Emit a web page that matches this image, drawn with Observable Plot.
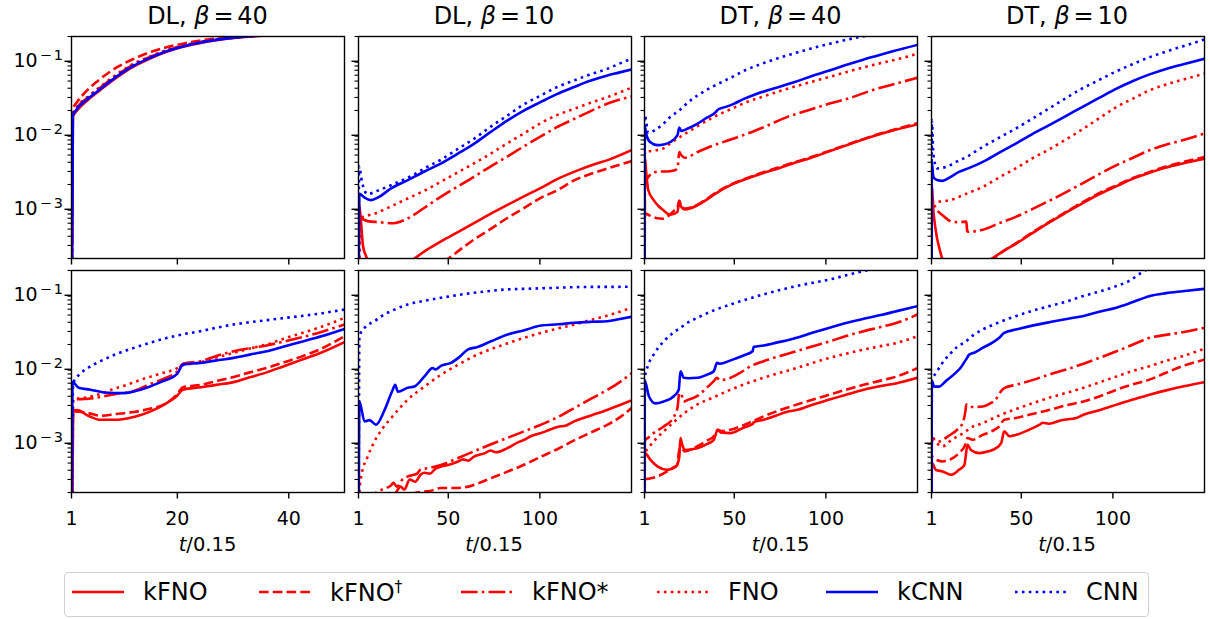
<!DOCTYPE html>
<html><head><meta charset="utf-8">
<script src="https://cdn.jsdelivr.net/npm/d3@7"></script>
<script src="https://cdn.jsdelivr.net/npm/@observablehq/plot@0.6"></script>
<style>
body{margin:0;background:#fff;}
#fig{position:relative;width:1210px;height:619px;font-family:"DejaVu Sans",sans-serif;color:#000;overflow:hidden;background:#fff}
.abs{position:absolute;white-space:nowrap;line-height:1}
.ctr{transform:translateX(-50%)}
.eq{margin:0 0.16em}
</style></head><body><div id="fig"></div>
<script>
// ---------- series names and tick labels ----------
const seriesNames = ["kFNO", "kFNO†", "kFNO*", "FNO", "kCNN", "CNN"];
const panelTitles = [["DL", "40"], ["DL", "10"], ["DT", "40"], ["DT", "10"]];
const xTicksShort = [1, 20, 40];
const xTicksLong = [1, 50, 100];
const yMajorTicks = [1e-3, 1e-2, 1e-1];
const xLabel = "/0.15";

// ---------- top row: DL, beta=40 ----------
const A_DL40_kFNO = [[1,1e-5],[1.25,0.0165],[2,0.02],[4,0.028],[6.2,0.038],[9,0.055],[12.2,0.079],[15,0.1],[18.2,0.125],[21,0.145],[24.2,0.164],[27,0.178],[30.2,0.191],[34,0.202],[40,0.22],[50,0.24]];
const A_DL40_kFNOdag = [[1,1e-5],[1.25,0.021],[2,0.026],[3.8,0.0374],[6.2,0.0537],[9.2,0.077],[12.2,0.1],[15,0.122],[18.2,0.144],[21,0.16],[24.2,0.177],[27,0.19],[29,0.2],[35,0.22],[50,0.24]];
const A_DL40_kFNOstar = [[1,1e-5],[1.25,0.0175],[2,0.022],[4,0.03],[6.2,0.041],[9,0.059],[12.2,0.084],[15,0.105],[18.2,0.13],[21,0.149],[24.2,0.168],[27,0.182],[30.2,0.195],[33.5,0.203],[40,0.22],[50,0.24]];
const A_DL40_FNO = [[1,1e-5],[1.25,0.018],[2,0.0225],[4,0.031],[6.2,0.042],[9,0.061],[12.2,0.086],[15,0.107],[18.2,0.132],[21,0.151],[24.2,0.17],[27,0.184],[30.2,0.196],[33,0.203],[40,0.22],[50,0.24]];
const A_DL40_kCNN = [[1,1e-5],[1.25,0.017],[2,0.021],[4,0.029],[6.2,0.039],[9,0.057],[12.2,0.081],[15,0.102],[18.2,0.127],[21,0.147],[24.2,0.166],[27,0.18],[30.2,0.193],[33.8,0.203],[40,0.22],[50,0.24]];
const A_DL40_CNN = [[1,1e-5],[1.25,0.0175],[2,0.0215],[4,0.03],[6.2,0.04],[9,0.058],[12.2,0.082],[15,0.103],[18.2,0.128],[21,0.148],[24.2,0.167],[27,0.181],[30.2,0.194],[33.5,0.203],[40,0.22],[50,0.24]];

// ---------- top row: DL, beta=10 ----------
const A_DL10_kFNO = [[1,1e-5],[1.2,0.00112],[2,0.0008],[3.5,0.00029],[5,0.00022],[7,0.00017],[15,0.00014],[25,0.00016],[31.5,0.0002],[38,0.00026],[46,0.00034],[55,0.00045],[64,0.0006],[73,0.0008],[82,0.00105],[91,0.00137],[100,0.00177],[110,0.0024],[121,0.00313],[129,0.0037],[137,0.00427],[150,0.00582]];
const A_DL10_kFNOdag = [[1,1e-5],[3,0.00012],[20,0.0001],[40,0.00016],[50,0.0002],[57,0.00027],[64,0.00036],[73,0.0005],[82,0.0007],[91,0.00095],[100,0.0013],[110,0.0017],[119,0.00229],[128,0.0028],[137,0.0033],[150,0.00413]];
const A_DL10_kFNOstar = [[1,1e-5],[1.5,0.0007],[6,0.00064],[12,0.00062],[20,0.0006],[28,0.0007],[37,0.00097],[46,0.00137],[55,0.00187],[64,0.00254],[73,0.0035],[82,0.00473],[91,0.0065],[100,0.0088],[109,0.0118],[119,0.0155],[128,0.0198],[137,0.0248],[150,0.031]];
const A_DL10_FNO = [[1,1e-5],[2,0.0007],[10,0.00081],[20,0.00105],[30,0.00137],[38,0.0017],[46,0.00218],[55,0.0029],[64,0.00385],[73,0.0052],[82,0.00715],[91,0.0097],[100,0.0133],[109,0.0172],[119,0.0212],[128,0.0256],[137,0.0304],[150,0.0407]];
const A_DL10_kCNN = [[1,1e-5],[1.5,0.0015],[4,0.00135],[7.9,0.00123],[12,0.00135],[18.8,0.00177],[27.9,0.00229],[37,0.003],[46.1,0.00385],[55,0.0052],[64.2,0.00715],[73,0.0102],[82.4,0.01475],[91,0.0198],[100.6,0.0261],[109,0.033],[118.7,0.0415],[127,0.05],[136.9,0.0596],[143,0.065],[150,0.0718]];
const A_DL10_CNN = [[1,1e-5],[1.3,0.0035],[3,0.0021],[6,0.00148],[10,0.0016],[18.8,0.00196],[29.7,0.0026],[38,0.0034],[46.1,0.00435],[55,0.006],[64.2,0.00835],[73,0.012],[82.4,0.0172],[91,0.024],[100.6,0.032],[109,0.041],[118.7,0.051],[127,0.061],[136.9,0.0733],[143,0.085],[150,0.1]];

// ---------- top row: DT, beta=40 ----------
const A_DT40_kFNO = [[1,1e-5],[1.2,0.0047],[2,0.0028],[3,0.0017],[6,0.00123],[9,0.001],[11,0.00091],[15,0.00078],[19,0.00085],[20,0.0012],[21,0.001],[23,0.00092],[30,0.00105],[35,0.00125],[40,0.00152],[48,0.00196],[56,0.00235],[65,0.00282],[74,0.0033],[83,0.00393],[92,0.0046],[101,0.00552],[110,0.0066],[119,0.0079],[128,0.0093],[137,0.0108],[150,0.013]];
const A_DT40_kFNOdag = [[1,1e-5],[1.2,0.00081],[4,0.00076],[8,0.0007],[11,0.00069],[14,0.00075],[17,0.00088],[19,0.00098],[20,0.0012],[21,0.00103],[23,0.00095],[30,0.00107],[35,0.00128],[40,0.00155],[48,0.002],[56,0.0024],[65,0.00288],[74,0.0034],[83,0.004],[92,0.0047],[101,0.0056],[110,0.0067],[119,0.008],[128,0.0095],[137,0.011],[150,0.0135]];
const A_DT40_kFNOstar = [[1,1e-5],[1.3,0.0021],[3,0.0025],[5,0.0028],[9,0.003],[13,0.003],[17,0.0031],[19,0.0033],[20,0.0055],[21,0.005],[23,0.0046],[30,0.0055],[39,0.0068],[48,0.0081],[57,0.0097],[68,0.0125],[79,0.0164],[90,0.02],[102,0.0248],[114,0.03],[125,0.0374],[138,0.046],[150,0.0555]];
const A_DT40_FNO = [[1,1e-5],[1.2,0.0055],[5,0.0057],[11,0.0061],[16,0.0075],[22,0.0093],[30,0.0123],[39,0.0164],[48,0.0208],[57,0.0261],[66,0.031],[75,0.0367],[84,0.0428],[93,0.0495],[102,0.057],[111,0.066],[120,0.076],[130,0.0874],[140,0.1],[150,0.117]];
const A_DT40_kCNN = [[1,1e-5],[1.2,0.012],[2,0.0095],[4,0.0075],[8,0.0068],[12,0.007],[15,0.0075],[19,0.0093],[20,0.0118],[21,0.0106],[25,0.0115],[30,0.0133],[35,0.016],[40,0.0191],[41,0.0205],[45,0.0222],[50,0.0248],[55,0.0285],[61,0.0327],[72,0.04],[83,0.0486],[92,0.058],[101,0.0682],[110,0.081],[119,0.095],[128,0.11],[137,0.127],[150,0.154]];
const A_DT40_CNN = [[1,1e-5],[1.2,0.0172],[3,0.01],[7,0.011],[11,0.013],[15,0.0163],[20,0.0201],[25,0.026],[30,0.032],[39,0.043],[48,0.0554],[56,0.07],[65,0.0857],[74,0.102],[83,0.119],[92,0.138],[102,0.159],[111,0.18],[120,0.2],[135,0.23],[150,0.26]];

// ---------- top row: DT, beta=10 ----------
const A_DT10_kFNO = [[1,1e-5],[1.2,0.00186],[2,0.0009],[3,0.00054],[6,0.000235],[10,0.00014],[20,0.00013],[28,0.00016],[34,0.0002],[40,0.00025],[47,0.000315],[56,0.00044],[66,0.00063],[75,0.00085],[84,0.00114],[93,0.0015],[102,0.0019],[111,0.0024],[120,0.00288],[129,0.0034],[138,0.00385],[150,0.00445]];
const A_DT10_kFNOdag = [[1,1e-5],[3,0.00012],[20,0.00012],[30,0.00016],[35,0.0002],[40,0.00025],[47,0.00032],[56,0.00045],[66,0.00064],[75,0.00087],[84,0.00117],[93,0.00155],[102,0.00195],[111,0.00245],[120,0.00295],[129,0.0035],[138,0.004],[150,0.0047]];
const A_DT10_kFNOstar = [[1,1e-5],[1.2,0.0012],[2,0.00111],[4,0.0009],[7,0.00077],[12,0.00063],[16,0.00062],[20,0.00063],[20.5,0.00047],[21,0.00046],[29,0.00049],[38,0.0006],[47,0.00073],[56,0.00093],[66,0.00123],[75,0.0016],[84,0.00211],[93,0.0028],[102,0.00365],[111,0.0046],[120,0.00582],[129,0.0069],[138,0.0079],[150,0.0098]];
const A_DT10_FNO = [[1,1e-5],[1.2,0.0013],[2,0.00117],[6,0.00118],[11,0.00123],[20,0.0015],[29,0.00186],[38,0.0025],[47,0.0033],[56,0.0045],[66,0.00612],[75,0.0083],[84,0.0114],[93,0.016],[102,0.0223],[111,0.029],[120,0.0374],[129,0.045],[138,0.0521],[150,0.0628]];
const A_DT10_kCNN = [[1,1e-5],[1.2,0.004],[2,0.00254],[4,0.0023],[7,0.00224],[11,0.0025],[16,0.00296],[21,0.0033],[29,0.00405],[38,0.0054],[47,0.00715],[56,0.0096],[66,0.013],[75,0.0172],[84,0.0228],[93,0.03],[102,0.0394],[111,0.05],[120,0.0615],[129,0.073],[138,0.0839],[150,0.1]];
const A_DT10_CNN = [[1,1e-5],[1.2,0.0147],[2,0.0052],[4,0.0033],[10,0.00354],[15,0.0041],[20,0.0047],[29,0.00646],[38,0.0086],[47,0.0114],[56,0.0155],[65,0.0212],[74,0.029],[83,0.0394],[92,0.051],[101,0.066],[110,0.083],[120,0.105],[129,0.125],[138,0.147],[150,0.182]];

// ---------- bottom row: DL, beta=40 ----------
const B_DL40_kFNO = [[1,1e-5],[1.3,0.0025],[2,0.0026],[4,0.00218],[6.2,0.00192],[9.2,0.00192],[12.2,0.0021],[15.2,0.0025],[18,0.0032],[20,0.0041],[21,0.0049],[24.2,0.0053],[27,0.0057],[30.1,0.0062],[33,0.0072],[36,0.0084],[39,0.0101],[42,0.0122],[46,0.0157],[50,0.0215]];
const B_DL40_kFNOdag = [[1,1e-5],[1.3,0.0025],[4,0.00237],[6.2,0.00218],[9,0.0023],[12.2,0.00245],[15,0.0027],[18,0.0032],[20,0.0043],[21,0.0053],[24.2,0.0057],[27,0.0064],[30.1,0.0073],[33,0.0084],[36,0.0096],[39,0.0114],[42,0.0135],[46,0.0178],[50,0.0259]];
const B_DL40_kFNOstar = [[1,1e-5],[1.3,0.0036],[4,0.0037],[6.2,0.0039],[9,0.0043],[12.2,0.0047],[15,0.0058],[18,0.0071],[20,0.0087],[21,0.011],[24.2,0.0119],[27,0.014],[30.1,0.0162],[33,0.0178],[36,0.0194],[39,0.0218],[42,0.0246],[46,0.0298],[50,0.0373]];
const B_DL40_FNO = [[1,1e-5],[1.3,0.0036],[4,0.0039],[6.2,0.0043],[8.5,0.005],[10.9,0.0057],[13.5,0.0067],[16.3,0.0078],[20,0.0096],[21,0.0105],[24.2,0.0115],[27,0.0133],[30.1,0.0154],[33,0.0176],[36,0.02],[39,0.0238],[42,0.0281],[46,0.035],[50,0.0458]];
const B_DL40_kCNN = [[1,1e-5],[1.2,0.0062],[2.3,0.0052],[4.4,0.0049],[6.8,0.0045],[10.4,0.0044],[13.4,0.0049],[17,0.0062],[20,0.0081],[21,0.0107],[24.2,0.0113],[27,0.0122],[30.1,0.0132],[33,0.0146],[36,0.0162],[39,0.0187],[42,0.0215],[46,0.026],[50,0.0325]];
const B_DL40_CNN = [[1,1e-5],[1.3,0.006],[2.6,0.0081],[4,0.0097],[6.2,0.0119],[9,0.0148],[12.2,0.018],[15,0.021],[18.2,0.0246],[21,0.0275],[24.2,0.0303],[27,0.0337],[30.1,0.0373],[33,0.04],[36.1,0.0427],[39,0.0455],[42.1,0.0483],[46,0.053],[50,0.0594]];

// ---------- bottom row: DL, beta=10 ----------
const B_DL10_kFNO = [[1,1e-5],[18,0.00015],[21.5,0.0002],[24,0.00024],[26,0.00022],[29,0.0003],[32,0.00028],[35,0.00035],[37,0.00037],[40,0.00036],[43,0.00042],[46,0.00045],[50,0.00047],[55,0.00052],[58,0.00056],[61,0.00054],[64,0.00061],[70,0.00068],[73,0.00074],[76,0.0007],[82,0.00079],[88,0.00095],[91,0.00102],[95,0.00115],[100.6,0.00127],[105,0.0014],[110,0.00155],[114,0.0016],[118.7,0.00183],[128,0.0022],[137,0.00263],[143,0.003],[150,0.0035]];
const B_DL10_kFNOdag = [[1,1e-5],[20,0.00012],[33,0.0002],[40,0.00021],[46,0.00023],[53,0.00023],[61,0.00024],[67,0.00027],[73,0.00031],[82,0.00038],[91,0.00047],[100.6,0.00061],[110,0.00078],[118.7,0.00101],[128,0.0013],[137,0.00165],[144,0.0021],[150,0.00277]];
const B_DL10_kFNOstar = [[1,1e-5],[9.7,0.00019],[14,0.00022],[18.8,0.00025],[20,0.00027],[22,0.00024],[25,0.0003],[28,0.00033],[33,0.00036],[35,0.00041],[40,0.00043],[46,0.00047],[55,0.00058],[64,0.00072],[73,0.00089],[82,0.00109],[91,0.00133],[100.6,0.00165],[110,0.0021],[118.7,0.00277],[128,0.0037],[137,0.0049],[144,0.0063],[150,0.0082]];
const B_DL10_FNO = [[1,1e-5],[1.5,0.0002],[2.5,0.00033],[6,0.00061],[9.7,0.00098],[14,0.00145],[18.8,0.00203],[27.9,0.0036],[37,0.0054],[46,0.0078],[55,0.0105],[64,0.0139],[73,0.0172],[82,0.0206],[91,0.0245],[100.6,0.0287],[110,0.033],[118.7,0.0372],[128,0.043],[137,0.0493],[150,0.0627]];
const B_DL10_kCNN = [[1,1e-5],[1.5,0.0034],[4.3,0.00183],[7,0.0019],[10.6,0.00165],[15.2,0.0026],[19.7,0.0049],[21,0.0057],[22.5,0.0046],[27.9,0.0052],[31.5,0.0054],[37,0.0074],[41.5,0.0096],[43,0.0092],[46,0.0103],[51.5,0.0113],[56,0.0135],[60.6,0.0171],[66,0.0185],[73.3,0.0221],[82.4,0.0273],[91.5,0.0312],[100.6,0.0361],[110,0.0375],[118.7,0.0393],[128,0.0405],[136.9,0.0413],[143,0.044],[150,0.0473]];
const B_DL10_CNN = [[1,1e-5],[1.5,0.0259],[4.3,0.0336],[9.7,0.0413],[14,0.049],[18.8,0.0565],[27.9,0.0695],[37,0.078],[46,0.0855],[55,0.093],[64,0.1],[73,0.106],[82,0.111],[91,0.113],[100.6,0.115],[110,0.117],[118.7,0.119],[128,0.12],[137,0.12],[150,0.121]];

// ---------- bottom row: DT, beta=40 ----------
const B_DT40_kFNO = [[1,1e-5],[1.2,0.00068],[4.3,0.00055],[8,0.00045],[13.4,0.000405],[17,0.00043],[18.8,0.00047],[20,0.00061],[20.6,0.00109],[21.5,0.0009],[23,0.00075],[29.7,0.00079],[35,0.0009],[38.8,0.00103],[41,0.00141],[42.5,0.0013],[48,0.00127],[55,0.0015],[60,0.00168],[60.6,0.00178],[66,0.00192],[73,0.0022],[80,0.0025],[84,0.0026],[93,0.0031],[102,0.0036],[111,0.0042],[120.6,0.0049],[130,0.0055],[138.7,0.006],[150,0.0071]];
const B_DT40_kFNOdag = [[1,1e-5],[1.2,0.0003],[4,0.00031],[8,0.00033],[13.4,0.000385],[17,0.00044],[18.8,0.00047],[20,0.00075],[21,0.0008],[23,0.00072],[29.7,0.00084],[35,0.001],[38.8,0.00115],[41,0.00141],[43,0.00135],[48,0.00141],[57,0.0017],[66,0.00214],[75,0.0026],[84,0.00308],[93,0.0036],[102,0.0042],[111,0.0049],[120.6,0.0057],[130,0.0065],[138.7,0.0074],[150,0.0096]];
const B_DT40_kFNOstar = [[1,1e-5],[1.2,0.001],[3,0.0011],[6,0.00127],[11.5,0.00156],[17,0.0021],[19,0.0028],[20,0.0044],[21,0.0043],[22.4,0.0034],[25,0.0036],[29.7,0.004],[35,0.0052],[38.8,0.0064],[40.6,0.0071],[42,0.0066],[48,0.0071],[54,0.0085],[59,0.0102],[66,0.0119],[75,0.014],[84,0.0162],[93,0.019],[102,0.0221],[111,0.026],[120.6,0.0303],[130,0.0345],[138.7,0.0393],[150,0.0509]];
const B_DT40_FNO = [[1,1e-5],[1.2,0.00068],[3,0.00079],[6,0.00098],[11.5,0.00134],[16,0.0017],[20.6,0.00214],[25,0.0026],[29.7,0.00308],[39,0.0039],[48,0.0049],[57,0.006],[66,0.0071],[75,0.0083],[84,0.0096],[93,0.0113],[102,0.0132],[111,0.015],[120.6,0.0171],[130,0.019],[138.7,0.021],[150,0.0259]];
const B_DT40_kCNN = [[1,1e-5],[1.2,0.0064],[3.4,0.004],[7,0.0032],[11.5,0.0034],[17,0.004],[19.7,0.0049],[20.6,0.0087],[22.4,0.0071],[25,0.007],[30,0.0071],[35,0.0078],[38.8,0.0087],[40.6,0.0113],[42,0.011],[48,0.0122],[55,0.0142],[60,0.0162],[60.6,0.0186],[66,0.0194],[73,0.0212],[80.6,0.0233],[84,0.0246],[93,0.029],[102,0.0336],[111,0.039],[120.6,0.0445],[130,0.05],[138.7,0.0565],[150,0.066]];
const B_DT40_CNN = [[1,1e-5],[1.2,0.0071],[3,0.0105],[6,0.0146],[11.5,0.0221],[16,0.028],[20.6,0.0336],[25,0.04],[29.7,0.0458],[39,0.058],[48,0.0695],[57,0.082],[66,0.095],[75,0.109],[84,0.123],[93,0.137],[102,0.151],[111,0.172],[120.6,0.197],[135,0.23],[150,0.27]];

// ---------- bottom row: DT, beta=10 ----------
const B_DT10_kFNO = [[1,1e-5],[1.2,0.0005],[3.4,0.000405],[7,0.000385],[11.6,0.000347],[16,0.000405],[18.9,0.00047],[20.7,0.00088],[22.5,0.00075],[27,0.00068],[32,0.00072],[36,0.00079],[39,0.00093],[40.7,0.00134],[43.5,0.00115],[47,0.0012],[54,0.0014],[60,0.00165],[61.7,0.00175],[65,0.0017],[72,0.0019],[80,0.00203],[84,0.00225],[93,0.0026],[102,0.00308],[111,0.0036],[120,0.0042],[129,0.0048],[138,0.0054],[150,0.0062]];
const B_DT10_kFNOdag = [[1,1e-5],[1.2,0.00061],[4,0.00055],[7,0.000525],[10.7,0.00055],[16,0.00068],[19.4,0.00088],[20.7,0.00109],[23.4,0.00103],[28.9,0.0012],[34,0.00135],[38,0.00156],[40.7,0.00193],[47,0.00203],[56,0.0023],[65,0.0026],[74,0.003],[84,0.0034],[93,0.004],[102,0.0049],[111,0.0058],[120,0.0067],[129,0.0083],[138,0.0102],[150,0.0125]];
const B_DT10_kFNOstar = [[1,1e-5],[1.2,0.0011],[5,0.00098],[10,0.00115],[15,0.00141],[18,0.00174],[19.5,0.0025],[20,0.00308],[22,0.00286],[29,0.0029],[33,0.0032],[36,0.0036],[39,0.0047],[41,0.0052],[47,0.0057],[56,0.0066],[65,0.0078],[74,0.0091],[84,0.011],[93,0.0133],[102,0.0162],[111,0.02],[120,0.0246],[129,0.027],[138,0.0293],[150,0.0336]];
const B_DT10_FNO = [[1,1e-5],[1.2,0.00109],[4,0.00092],[7,0.00084],[12,0.00103],[19,0.0013],[22,0.00148],[29,0.00173],[38,0.0022],[47,0.00268],[56,0.0032],[65,0.0038],[74,0.0044],[84,0.0052],[93,0.0062],[102,0.0074],[111,0.0088],[120,0.0102],[129,0.012],[138,0.0139],[150,0.0175]];
const B_DT10_kCNN = [[1,1e-5],[1.2,0.0064],[2.5,0.0054],[5,0.0054],[8.8,0.0064],[14,0.0082],[17,0.0098],[19.8,0.0125],[21.6,0.0146],[24.3,0.0155],[28.9,0.018],[34,0.021],[38,0.0246],[40.7,0.0287],[47,0.0318],[56,0.036],[65.3,0.04],[74,0.044],[83.5,0.0483],[92,0.055],[101.8,0.0627],[111,0.075],[119.8,0.09],[129,0.099],[138,0.105],[150,0.113]];
const B_DT10_CNN = [[1,1e-5],[1.2,0.0067],[3.4,0.0082],[7,0.0113],[10.7,0.0146],[15,0.0185],[19.8,0.0221],[24,0.027],[28.9,0.0318],[38,0.04],[47,0.0483],[56,0.057],[65.3,0.066],[74,0.075],[83.5,0.09],[92,0.103],[101.8,0.123],[109,0.145],[116,0.19],[125,0.24],[150,0.33]];

// ---------- assembly ----------
const panels = [
  {row:0, col:0, s:[A_DL40_kFNO, A_DL40_kFNOdag, A_DL40_kFNOstar, A_DL40_FNO, A_DL40_kCNN, A_DL40_CNN]},
  {row:0, col:1, s:[A_DL10_kFNO, A_DL10_kFNOdag, A_DL10_kFNOstar, A_DL10_FNO, A_DL10_kCNN, A_DL10_CNN]},
  {row:0, col:2, s:[A_DT40_kFNO, A_DT40_kFNOdag, A_DT40_kFNOstar, A_DT40_FNO, A_DT40_kCNN, A_DT40_CNN]},
  {row:0, col:3, s:[A_DT10_kFNO, A_DT10_kFNOdag, A_DT10_kFNOstar, A_DT10_FNO, A_DT10_kCNN, A_DT10_CNN]},
  {row:1, col:0, s:[B_DL40_kFNO, B_DL40_kFNOdag, B_DL40_kFNOstar, B_DL40_FNO, B_DL40_kCNN, B_DL40_CNN]},
  {row:1, col:1, s:[B_DL10_kFNO, B_DL10_kFNOdag, B_DL10_kFNOstar, B_DL10_FNO, B_DL10_kCNN, B_DL10_CNN]},
  {row:1, col:2, s:[B_DT40_kFNO, B_DT40_kFNOdag, B_DT40_kFNOstar, B_DT40_FNO, B_DT40_kCNN, B_DT40_CNN]},
  {row:1, col:3, s:[B_DT10_kFNO, B_DT10_kFNOdag, B_DT10_kFNOstar, B_DT10_FNO, B_DT10_kCNN, B_DT10_CNN]}
];

const LW = 2.6;
const RED = "#ff0000", BLUE = "#0000ff";
const styles = [
  {stroke: RED, dash: null},
  {stroke: RED, dash: `${3.7*LW},${1.6*LW}`},
  {stroke: RED, dash: `${6.4*LW},${1.6*LW},${1*LW},${1.6*LW}`},
  {stroke: RED, dash: `${1*LW},${1.65*LW}`},
  {stroke: BLUE, dash: null},
  {stroke: BLUE, dash: `${1*LW},${1.65*LW}`}
];

const yMinorTicks = [];
for (let e = -4; e <= -1; e++) for (let m = 2; m <= 9; m++) {
  const v = m * Math.pow(10, e);
  if (v >= 2e-4 && v <= 0.2 + 1e-9) yMinorTicks.push(v);
}

const colLeft = [71, 357.5, 644, 930.5], frameW = 273;
const rowTop = [35.7, 270], frameH = 222;
const fig = document.getElementById("fig");
const NS = "http://www.w3.org/2000/svg";

for (const p of panels) {
  const ml = p.col === 0 ? 71 : 12, mr = 4, mt = 4, mb = p.row === 1 ? 44 : 12;
  const short = p.col === 0;
  const marks = [];
  p.s.forEach((arr, i) => {
    marks.push(Plot.line(arr, {
      x: d => d[0], y: d => d[1], stroke: styles[i].stroke, strokeWidth: LW,
      strokeDasharray: styles[i].dash, strokeLinecap: "butt", strokeLinejoin: "round",
      curve: "monotone-x", clip: true
    }));
  });
  marks.push(Plot.axisY(yMinorTicks, {tickSize: 3.5, tickFormat: () => "", strokeWidth: 1.1, label: null}));
  marks.push(Plot.axisY(yMajorTicks, {
    tickSize: 6.5, tickPadding: 2, strokeWidth: 1.4, label: null, fontSize: 19, dy: 2.5,
    tickFormat: p.col === 0 ? (d => "10^" + Math.round(Math.log10(d))) : (() => "")
  }));
  marks.push(Plot.axisX(short ? xTicksShort : xTicksLong, {
    tickSize: 6.5, tickPadding: 12, strokeWidth: 1.4, label: null, fontSize: 19,
    tickFormat: p.row === 1 ? (d => String(d)) : (() => "")
  }));
  marks.push(Plot.frame({stroke: "#000", strokeWidth: 1.4}));
  const svg = Plot.plot({
    width: frameW + ml + mr, height: frameH + mt + mb,
    marginLeft: ml, marginRight: mr, marginTop: mt, marginBottom: mb,
    style: {background: "transparent", overflow: "visible", fontFamily: "DejaVu Sans", fontSize: "19px", color: "#000"},
    x: {domain: short ? [1, 50] : [1, 150], label: null},
    y: {type: "log", domain: [2e-4, 0.2], label: null},
    marks
  });
  svg.style.position = "absolute";
  svg.style.left = (colLeft[p.col] - ml) + "px";
  svg.style.top = (rowTop[p.row] - mt) + "px";
  svg.style.maxWidth = "none";
  svg.querySelectorAll("text").forEach(t => {
    const m = /^10\^(-?\d+)$/.exec(t.textContent);
    if (!m) return;
    t.textContent = "";
    const a = document.createElementNS(NS, "tspan"); a.textContent = "10"; t.appendChild(a);
    const b = document.createElementNS(NS, "tspan");
    b.setAttribute("dy", "-0.52em"); b.setAttribute("dx", "2"); b.setAttribute("font-size", "0.76em");
    b.textContent = "\u2212"; t.appendChild(b);
    const c = document.createElementNS(NS, "tspan");
    c.setAttribute("dx", "2"); c.setAttribute("font-size", "0.76em");
    c.textContent = m[1].replace("-", ""); t.appendChild(c);
  });
  fig.appendChild(svg);

  if (p.row === 0) {
    const d = document.createElement("div");
    d.className = "abs ctr";
    d.style.left = (colLeft[p.col] + frameW / 2) + "px";
    d.style.top = (24 - 0.846 * 24) + "px";
    d.style.fontSize = "24px";
    const tt = panelTitles[p.col];
    d.innerHTML = `${tt[0]}, <i>β</i><span class="eq">=</span>${tt[1]}`;
    fig.appendChild(d);
  } else {
    const d = document.createElement("div");
    d.className = "abs ctr";
    d.style.left = (colLeft[p.col] + frameW / 2) + "px";
    d.style.top = (551 - 0.846 * 19.5) + "px";
    d.style.fontSize = "19.5px";
    d.innerHTML = `<i>t</i>${xLabel}`;
    fig.appendChild(d);
  }
}

// ---------- legend ----------
const box = document.createElement("div");
box.className = "abs";
Object.assign(box.style, {left: "64px", top: "572px", width: "1083px", height: "43px",
  border: "1px solid #cfcfcf", borderRadius: "4px", background: "#fff"});
fig.appendChild(box);
const legX = [72, 259, 461, 657, 826, 1015];
seriesNames.forEach((name, i) => {
  const s = document.createElementNS(NS, "svg");
  s.setAttribute("width", 56); s.setAttribute("height", 10);
  Object.assign(s.style, {position: "absolute", left: legX[i] + "px", top: "587px"});
  const l = document.createElementNS(NS, "line");
  l.setAttribute("x1", 0); l.setAttribute("x2", 52); l.setAttribute("y1", 5); l.setAttribute("y2", 5);
  l.setAttribute("stroke", styles[i].stroke); l.setAttribute("stroke-width", LW);
  if (styles[i].dash) l.setAttribute("stroke-dasharray", styles[i].dash);
  s.appendChild(l);
  fig.appendChild(s);
  const t = document.createElement("div");
  t.className = "abs";
  t.style.left = (legX[i] + 71) + "px";
  t.style.top = (600.7 - 0.846 * 24) + "px";
  t.style.fontSize = "24px";
  t.innerHTML = name.endsWith("†") ? name.slice(0, -1) + '<sup style="font-size:0.65em;vertical-align:0.6em">†</sup>' : name;
  fig.appendChild(t);
});
</script></body></html>
